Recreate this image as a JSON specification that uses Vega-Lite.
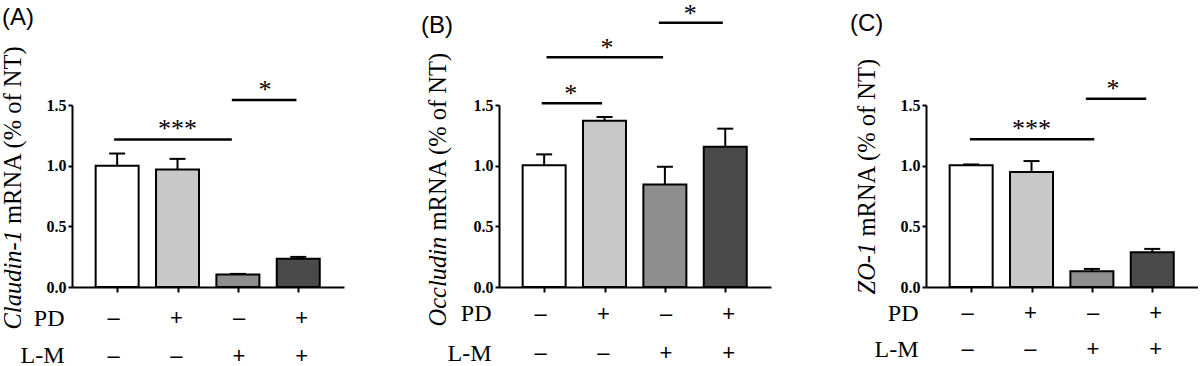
{
  "$schema": "https://vega.github.io/schema/vega-lite/v6.json",
  "padding": {"left": 0, "top": 0, "right": 0, "bottom": 0},
  "background": "white",
  "config": {
    "view": {"stroke": null},
    "font": "Liberation Serif, Times New Roman, serif",
    "title": {"font": "Liberation Sans, Arial, sans-serif", "fontSize": 24, "fontWeight": "normal", "color": "black", "anchor": "start", "frame": "group", "baseline": "alphabetic", "offset": 0}
  },
  "datasets": {
    "barsA": [
      {"group": 1, "mean": 1.0, "upper": 1.1},
      {"group": 2, "mean": 0.968, "upper": 1.056},
      {"group": 3, "mean": 0.102, "upper": 0.108},
      {"group": 4, "mean": 0.232, "upper": 0.248}
    ],
    "barsB": [
      {"group": 1, "mean": 1.003, "upper": 1.093},
      {"group": 2, "mean": 1.371, "upper": 1.401},
      {"group": 3, "mean": 0.845, "upper": 0.991},
      {"group": 4, "mean": 1.156, "upper": 1.305}
    ],
    "barsC": [
      {"group": 1, "mean": 1.003, "upper": 1.01},
      {"group": 2, "mean": 0.947, "upper": 1.038},
      {"group": 3, "mean": 0.129, "upper": 0.149},
      {"group": 4, "mean": 0.286, "upper": 0.314}
    ],
    "sigA": [
      {"from": 0.95, "to": 2.9, "mid": 2.0, "level": 1.216, "label": "***"},
      {"from": 2.9, "to": 3.97, "mid": 3.45, "level": 1.541, "label": "*"}
    ],
    "sigB": [
      {"from": 0.96, "to": 1.96, "mid": 1.44, "level": 1.514, "label": "*"},
      {"from": 1.04, "to": 2.97, "mid": 2.04, "level": 1.894, "label": "*"},
      {"from": 2.9, "to": 3.96, "mid": 3.42, "level": 2.178, "label": "*"}
    ],
    "sigC": [
      {"from": 0.98, "to": 3.04, "mid": 2.0, "level": 1.217, "label": "***"},
      {"from": 2.9, "to": 3.9, "mid": 3.35, "level": 1.552, "label": "*"}
    ],
    "signs": [
      {"group": 1, "factor": "PD", "sign": "–"},
      {"group": 2, "factor": "PD", "sign": "+"},
      {"group": 3, "factor": "PD", "sign": "–"},
      {"group": 4, "factor": "PD", "sign": "+"},
      {"group": 1, "factor": "L-M", "sign": "–"},
      {"group": 2, "factor": "L-M", "sign": "–"},
      {"group": 3, "factor": "L-M", "sign": "+"},
      {"group": 4, "factor": "L-M", "sign": "+"}
    ]
  },
  "bounds": "flush",
  "columns": 3,
  "spacing": {"column": 155, "row": 8},
  "concat": [
    {
      "width": 272,
      "height": 182,
      "title": {"text": "(A)", "dx": -70, "dy": -11},
      "resolve": {"axis": {"y": "independent"}},
      "data": {"name": "barsA"},
      "layer": [
        {
          "mark": {"type": "bar", "width": 43, "stroke": "black", "strokeWidth": 2, "orient": "vertical"},
          "encoding": {
            "x": {"field": "group", "type": "quantitative", "scale": {"domain": [0.335, 4.675], "nice": false, "zero": false},
              "axis": {"values": [1, 2, 3, 4], "labels": false, "title": null, "grid": false, "domainColor": "black", "domainWidth": 2, "tickColor": "black", "tickWidth": 2, "tickSize": 5}},
            "y": {"field": "mean", "type": "quantitative", "scale": {"domain": [0, 1.5], "nice": false},
              "axis": {"orient": "left", "values": [0, 0.5, 1, 1.5], "format": ".1f", "grid": false, "domainColor": "black", "domainWidth": 2, "tickColor": "black", "tickWidth": 2, "tickSize": 4, "labelPadding": 2, "labelFont": "Liberation Serif, Times New Roman, serif", "labelFontWeight": "bold", "labelFontSize": 16, "labelColor": "black",
                "title": "Claudin-1", "titleFont": "Liberation Serif, Times New Roman, serif", "titleFontStyle": "italic", "titleFontWeight": "normal", "titleFontSize": 24.5, "titleColor": "black", "titleAngle": 270, "titleAlign": "left", "titleBaseline": "alphabetic", "titleX": -51.5, "titleY": 224}},
            "color": {"field": "group", "type": "nominal", "scale": {"domain": [1, 2, 3, 4], "range": ["#ffffff", "#c8c8c8", "#8e8e8e", "#4a4a4a"]}, "legend": null}
          }
        },
        {
          "mark": {"type": "rule", "color": "black", "strokeWidth": 2},
          "encoding": {
            "x": {"field": "group", "type": "quantitative", "scale": {"domain": [0.335, 4.675], "nice": false, "zero": false}},
            "y": {"field": "mean", "type": "quantitative", "scale": {"domain": [0, 1.5], "nice": false},
              "axis": {"orient": "left", "labels": false, "ticks": false, "domain": false, "grid": false,
                "title": "mRNA (% of NT)", "titleFont": "Liberation Serif, Times New Roman, serif", "titleFontStyle": "normal", "titleFontWeight": "normal", "titleFontSize": 24.5, "titleColor": "black", "titleAngle": 270, "titleAlign": "left", "titleBaseline": "alphabetic", "titleX": -51.5, "titleY": 118.5}},
            "y2": {"field": "upper"}
          }
        },
        {
          "mark": {"type": "tick", "orient": "horizontal", "size": 16, "thickness": 2, "color": "black", "opacity": 1},
          "encoding": {
            "x": {"field": "group", "type": "quantitative", "scale": {"domain": [0.335, 4.675], "nice": false, "zero": false}},
            "y": {"field": "upper", "type": "quantitative", "scale": {"domain": [0, 1.5], "nice": false}, "axis": null}
          }
        },
        {
          "data": {"name": "sigA"},
          "mark": {"type": "rule", "color": "black", "strokeWidth": 2.5},
          "encoding": {
            "x": {"field": "from", "type": "quantitative", "scale": {"domain": [0.335, 4.675], "nice": false, "zero": false}},
            "x2": {"field": "to"},
            "y": {"field": "level", "type": "quantitative", "scale": {"domain": [0, 1.5], "nice": false}, "axis": null}
          }
        },
        {
          "data": {"name": "sigA"},
          "mark": {"type": "text", "font": "Liberation Serif, Times New Roman, serif", "fontSize": 26, "color": "black", "baseline": "alphabetic", "dy": -2},
          "encoding": {
            "x": {"field": "mid", "type": "quantitative", "scale": {"domain": [0.335, 4.675], "nice": false, "zero": false}},
            "y": {"field": "level", "type": "quantitative", "scale": {"domain": [0, 1.5], "nice": false}, "axis": null},
            "text": {"field": "label"}
          }
        }
      ]
    },
    {
      "width": 272,
      "height": 182,
      "title": {"text": "(B)", "dx": -78, "dy": 41},
      "resolve": {"axis": {"y": "independent"}},
      "data": {"name": "barsB"},
      "layer": [
        {
          "mark": {"type": "bar", "width": 43, "stroke": "black", "strokeWidth": 2, "orient": "vertical"},
          "encoding": {
            "x": {"field": "group", "type": "quantitative", "scale": {"domain": [0.335, 4.675], "nice": false, "zero": false},
              "axis": {"values": [1, 2, 3, 4], "labels": false, "title": null, "grid": false, "domainColor": "black", "domainWidth": 2, "tickColor": "black", "tickWidth": 2, "tickSize": 5}},
            "y": {"field": "mean", "type": "quantitative", "scale": {"domain": [0, 1.5], "nice": false},
              "axis": {"orient": "left", "values": [0, 0.5, 1, 1.5], "format": ".1f", "grid": false, "domainColor": "black", "domainWidth": 2, "tickColor": "black", "tickWidth": 2, "tickSize": 4, "labelPadding": 2, "labelFont": "Liberation Serif, Times New Roman, serif", "labelFontWeight": "bold", "labelFontSize": 16, "labelColor": "black",
                "title": "Occludin", "titleFont": "Liberation Serif, Times New Roman, serif", "titleFontStyle": "italic", "titleFontWeight": "normal", "titleFontSize": 24.5, "titleColor": "black", "titleAngle": 270, "titleAlign": "left", "titleBaseline": "alphabetic", "titleX": -54, "titleY": 221}},
            "color": {"field": "group", "type": "nominal", "scale": {"domain": [1, 2, 3, 4], "range": ["#ffffff", "#c8c8c8", "#8e8e8e", "#4a4a4a"]}, "legend": null}
          }
        },
        {
          "mark": {"type": "rule", "color": "black", "strokeWidth": 2},
          "encoding": {
            "x": {"field": "group", "type": "quantitative", "scale": {"domain": [0.335, 4.675], "nice": false, "zero": false}},
            "y": {"field": "mean", "type": "quantitative", "scale": {"domain": [0, 1.5], "nice": false},
              "axis": {"orient": "left", "labels": false, "ticks": false, "domain": false, "grid": false,
                "title": "mRNA (% of NT)", "titleFont": "Liberation Serif, Times New Roman, serif", "titleFontStyle": "normal", "titleFontWeight": "normal", "titleFontSize": 24.5, "titleColor": "black", "titleAngle": 270, "titleAlign": "left", "titleBaseline": "alphabetic", "titleX": -54, "titleY": 125}},
            "y2": {"field": "upper"}
          }
        },
        {
          "mark": {"type": "tick", "orient": "horizontal", "size": 16, "thickness": 2, "color": "black", "opacity": 1},
          "encoding": {
            "x": {"field": "group", "type": "quantitative", "scale": {"domain": [0.335, 4.675], "nice": false, "zero": false}},
            "y": {"field": "upper", "type": "quantitative", "scale": {"domain": [0, 1.5], "nice": false}, "axis": null}
          }
        },
        {
          "data": {"name": "sigB"},
          "mark": {"type": "rule", "color": "black", "strokeWidth": 2.5},
          "encoding": {
            "x": {"field": "from", "type": "quantitative", "scale": {"domain": [0.335, 4.675], "nice": false, "zero": false}},
            "x2": {"field": "to"},
            "y": {"field": "level", "type": "quantitative", "scale": {"domain": [0, 1.5], "nice": false}, "axis": null}
          }
        },
        {
          "data": {"name": "sigB"},
          "mark": {"type": "text", "font": "Liberation Serif, Times New Roman, serif", "fontSize": 26, "color": "black", "baseline": "alphabetic", "dy": -1},
          "encoding": {
            "x": {"field": "mid", "type": "quantitative", "scale": {"domain": [0.335, 4.675], "nice": false, "zero": false}},
            "y": {"field": "level", "type": "quantitative", "scale": {"domain": [0, 1.5], "nice": false}, "axis": null},
            "text": {"field": "label"}
          }
        }
      ]
    },
    {
      "width": 272,
      "height": 182,
      "title": {"text": "(C)", "dx": -76, "dy": -17},
      "resolve": {"axis": {"y": "independent"}},
      "data": {"name": "barsC"},
      "layer": [
        {
          "mark": {"type": "bar", "width": 43, "stroke": "black", "strokeWidth": 2, "orient": "vertical"},
          "encoding": {
            "x": {"field": "group", "type": "quantitative", "scale": {"domain": [0.335, 4.675], "nice": false, "zero": false},
              "axis": {"values": [1, 2, 3, 4], "labels": false, "title": null, "grid": false, "domainColor": "black", "domainWidth": 2, "tickColor": "black", "tickWidth": 2, "tickSize": 5}},
            "y": {"field": "mean", "type": "quantitative", "scale": {"domain": [0, 1.5], "nice": false},
              "axis": {"orient": "left", "values": [0, 0.5, 1, 1.5], "format": ".1f", "grid": false, "domainColor": "black", "domainWidth": 2, "tickColor": "black", "tickWidth": 2, "tickSize": 4, "labelPadding": 2, "labelFont": "Liberation Serif, Times New Roman, serif", "labelFontWeight": "bold", "labelFontSize": 16, "labelColor": "black",
                "title": "ZO-1", "titleFont": "Liberation Serif, Times New Roman, serif", "titleFontStyle": "italic", "titleFontWeight": "normal", "titleFontSize": 24.5, "titleColor": "black", "titleAngle": 270, "titleAlign": "left", "titleBaseline": "alphabetic", "titleX": -52, "titleY": 189}},
            "color": {"field": "group", "type": "nominal", "scale": {"domain": [1, 2, 3, 4], "range": ["#ffffff", "#c8c8c8", "#8e8e8e", "#4a4a4a"]}, "legend": null}
          }
        },
        {
          "mark": {"type": "rule", "color": "black", "strokeWidth": 2},
          "encoding": {
            "x": {"field": "group", "type": "quantitative", "scale": {"domain": [0.335, 4.675], "nice": false, "zero": false}},
            "y": {"field": "mean", "type": "quantitative", "scale": {"domain": [0, 1.5], "nice": false},
              "axis": {"orient": "left", "labels": false, "ticks": false, "domain": false, "grid": false,
                "title": "mRNA (% of NT)", "titleFont": "Liberation Serif, Times New Roman, serif", "titleFontStyle": "normal", "titleFontWeight": "normal", "titleFontSize": 24.5, "titleColor": "black", "titleAngle": 270, "titleAlign": "left", "titleBaseline": "alphabetic", "titleX": -52, "titleY": 131}},
            "y2": {"field": "upper"}
          }
        },
        {
          "mark": {"type": "tick", "orient": "horizontal", "size": 16, "thickness": 2, "color": "black", "opacity": 1},
          "encoding": {
            "x": {"field": "group", "type": "quantitative", "scale": {"domain": [0.335, 4.675], "nice": false, "zero": false}},
            "y": {"field": "upper", "type": "quantitative", "scale": {"domain": [0, 1.5], "nice": false}, "axis": null}
          }
        },
        {
          "data": {"name": "sigC"},
          "mark": {"type": "rule", "color": "black", "strokeWidth": 2.5},
          "encoding": {
            "x": {"field": "from", "type": "quantitative", "scale": {"domain": [0.335, 4.675], "nice": false, "zero": false}},
            "x2": {"field": "to"},
            "y": {"field": "level", "type": "quantitative", "scale": {"domain": [0, 1.5], "nice": false}, "axis": null}
          }
        },
        {
          "data": {"name": "sigC"},
          "mark": {"type": "text", "font": "Liberation Serif, Times New Roman, serif", "fontSize": 26, "color": "black", "baseline": "alphabetic", "dy": -2},
          "encoding": {
            "x": {"field": "mid", "type": "quantitative", "scale": {"domain": [0.335, 4.675], "nice": false, "zero": false}},
            "y": {"field": "level", "type": "quantitative", "scale": {"domain": [0, 1.5], "nice": false}, "axis": null},
            "text": {"field": "label"}
          }
        }
      ]
    },
    {
      "width": 272,
      "height": 84,
      "data": {"name": "signs"},
      "mark": {"type": "text", "font": "Liberation Sans, Arial, sans-serif", "fontSize": 22, "color": "black", "baseline": "middle"},
      "encoding": {
        "x": {"field": "group", "type": "quantitative", "scale": {"domain": [0.335, 4.675], "nice": false, "zero": false}, "axis": null},
        "y": {"field": "factor", "type": "nominal", "sort": ["PD", "L-M"], "scale": {"padding": 0.62}, "axis": {"title": null, "domain": false, "ticks": false, "grid": false, "labelFont": "Liberation Serif, Times New Roman, serif", "labelFontSize": 24, "labelColor": "black", "labelPadding": 8}},
        "text": {"field": "sign"}
      }
    },
    {
      "width": 272,
      "height": 77,
      "data": {"name": "signs"},
      "mark": {"type": "text", "font": "Liberation Sans, Arial, sans-serif", "fontSize": 22, "color": "black", "baseline": "middle"},
      "encoding": {
        "x": {"field": "group", "type": "quantitative", "scale": {"domain": [0.335, 4.675], "nice": false, "zero": false}, "axis": null},
        "y": {"field": "factor", "type": "nominal", "sort": ["PD", "L-M"], "scale": {"padding": 0.487}, "axis": {"title": null, "domain": false, "ticks": false, "grid": false, "labelFont": "Liberation Serif, Times New Roman, serif", "labelFontSize": 24, "labelColor": "black", "labelPadding": 8}},
        "text": {"field": "sign"}
      }
    },
    {
      "width": 272,
      "height": 72,
      "data": {"name": "signs"},
      "mark": {"type": "text", "font": "Liberation Sans, Arial, sans-serif", "fontSize": 22, "color": "black", "baseline": "middle"},
      "encoding": {
        "x": {"field": "group", "type": "quantitative", "scale": {"domain": [0.335, 4.675], "nice": false, "zero": false}, "axis": null},
        "y": {"field": "factor", "type": "nominal", "sort": ["PD", "L-M"], "scale": {"padding": 0.5}, "axis": {"title": null, "domain": false, "ticks": false, "grid": false, "labelFont": "Liberation Serif, Times New Roman, serif", "labelFontSize": 24, "labelColor": "black", "labelPadding": 8}},
        "text": {"field": "sign"}
      }
    }
  ]
}
